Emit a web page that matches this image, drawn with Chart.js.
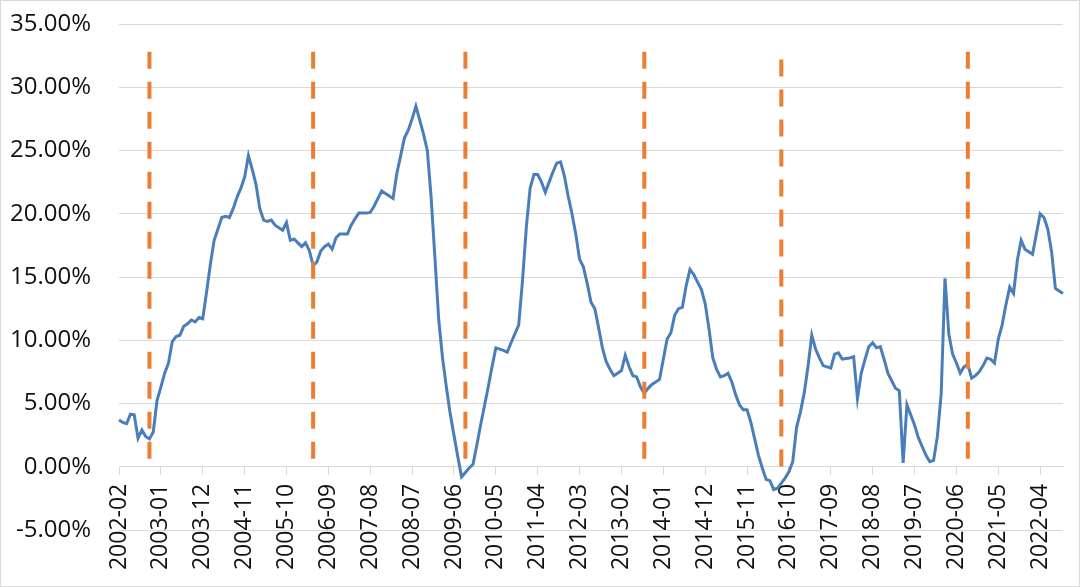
<!DOCTYPE html>
<html>
<head>
<meta charset="utf-8">
<script src="https://cdn.jsdelivr.net/npm/chart.js@4/dist/chart.umd.min.js"></script>
<style>
  html, body { margin: 0; padding: 0; background: #fff; }
  #wrap { width: 1080px; height: 587px; box-sizing: border-box; border: 1px solid #d9d9d9; background: #fff; }
  canvas { display: block; }
</style>
</head>
<body>
<div id="wrap"><canvas id="c" width="1078" height="585"></canvas></div>
<script>
// ---- categories: monthly, 2002-02 .. 2022-10 ----
const startYear = 2002, startMonth = 2, monthCount = 249;
const months = [];
for (let k = 0; k < monthCount; k++) {
  const m = startMonth - 1 + k;
  const y = startYear + Math.floor(m / 12);
  const mm = (m % 12) + 1;
  months.push(y + '-' + String(mm).padStart(2, '0'));
}
const labelEvery = 11; // shown tick labels: 2002-02, 2003-01, ...

// ---- series values (%) ----
const seriesValues = [
  3.7, 3.5, 3.4, 4.15, 4.1, 2.25, 2.9, 2.4, 2.2, 2.75,
  5.25, 6.3, 7.4, 8.2, 9.9, 10.3, 10.4, 11.1, 11.3, 11.6,
  11.45, 11.8, 11.7, 13.8, 16.0, 17.9, 18.8, 19.7, 19.8, 19.7,
  20.4, 21.3, 22.0, 22.9, 24.6, 23.5, 22.3, 20.4, 19.5, 19.4,
  19.5, 19.1, 18.9, 18.7, 19.3, 17.9, 18.0, 17.7, 17.4, 17.7,
  17.1, 15.9, 16.2, 17.05, 17.4, 17.6, 17.2, 18.1, 18.4, 18.4,
  18.4, 19.1, 19.6, 20.05, 20.05, 20.05, 20.1, 20.6, 21.2, 21.8,
  21.6, 21.4, 21.2, 23.2, 24.6, 26.0, 26.6, 27.5, 28.5, 27.4,
  26.3, 25.0, 21.3, 16.5, 11.6, 8.6, 6.3, 4.2, 2.5, 0.8,
  -0.8, -0.45, -0.1, 0.2, 1.7, 3.3, 4.8, 6.3, 7.9, 9.4,
  9.3, 9.2, 9.05, 9.8, 10.5, 11.2, 14.7, 18.9, 22.0, 23.1,
  23.1, 22.5, 21.7, 22.5, 23.3, 24.0, 24.1, 23.0, 21.4, 20.0,
  18.4, 16.4, 15.8, 14.5, 13.0, 12.5, 11.0, 9.4, 8.3, 7.7,
  7.2, 7.4, 7.6, 8.8, 7.9, 7.2, 7.1, 6.3, 5.8, 6.2,
  6.5, 6.7, 6.9, 8.5, 10.1, 10.6, 12.0, 12.5, 12.6, 14.3,
  15.6, 15.2, 14.6, 14.0, 12.9, 10.9, 8.6, 7.7, 7.1, 7.2,
  7.4, 6.7, 5.7, 4.9, 4.5, 4.5, 3.5, 2.2, 0.9, -0.1,
  -1.0, -1.1, -1.8, -1.7, -1.3, -0.9, -0.4, 0.4, 3.1, 4.3,
  5.8, 7.9, 10.4, 9.3, 8.6, 8.0, 7.9, 7.8, 8.9, 9.0,
  8.5, 8.55, 8.6, 8.7, 5.4, 7.4, 8.5, 9.5, 9.8, 9.4,
  9.5, 8.5, 7.4, 6.8, 6.2, 6.0, 0.3, 4.9, 4.1, 3.3,
  2.3, 1.6, 0.9, 0.4, 0.5, 2.4, 5.8, 14.9, 10.5, 8.9,
  8.2, 7.4, 7.9, 8.1, 7.0, 7.2, 7.5, 8.0, 8.6, 8.5,
  8.2, 10.1, 11.2, 12.8, 14.2, 13.7, 16.3, 17.9, 17.2, 17.0,
  16.8, 18.4, 20.0, 19.7, 18.8, 17.0, 14.1, 13.9, 13.7
];

// ---- event markers (dashed verticals): month, top %, bottom % ----
const markerMonths = ['2002-10', '2006-05', '2009-09', '2013-08', '2016-08', '2020-09'];
const markerTops    = [32.8, 32.8, 32.8, 32.8, 32.2, 32.8];
const markerBottoms = [0.45, 0.45, 0.45, 0.45, -0.2, 0.45];

// ---- y ticks ----
const yMin = -5, yMax = 35, yStep = 5;

const markerDatasets = markerMonths.map((m, k) => ({
  label: 'marker' + k,
  data: [{ x: m, y: markerTops[k] }, { x: m, y: markerBottoms[k] }],
  borderColor: '#ED7D31',
  borderWidth: 4,
  borderDash: [17, 13],
  pointRadius: 0,
  fill: false,
  order: 0
}));

const fontFamily = '"Open Sans", "Liberation Sans", sans-serif';

new Chart(document.getElementById('c'), {
  type: 'line',
  data: {
    labels: months,
    datasets: [
      ...markerDatasets,
      {
        label: 'series',
        data: seriesValues,
        borderColor: '#4A7EBB',
        borderWidth: 3,
        pointRadius: 0,
        tension: 0,
        fill: false,
        order: 1
      }
    ]
  },
  options: {
    responsive: false,
    animation: false,
    layout: { padding: { top: 23, right: 16, left: 0, bottom: 56 } },
    plugins: { legend: { display: false }, tooltip: { enabled: false } },
    scales: {
      x: {
        type: 'category',
        position: { y: 0 },
        offset: false,
        grid: {
          drawOnChartArea: false,
          drawTicks: true,
          tickLength: 8,
          color: (ctx) => (ctx.index % labelEvery === 0 ? '#D9D9D9' : 'rgba(0,0,0,0)'),
          lineWidth: 1
        },
        border: { display: true, color: '#D9D9D9', width: 1 },
        ticks: {
          autoSkip: false,
          minRotation: 90,
          maxRotation: 90,
          padding: 9,
          color: '#111',
          font: { family: fontFamily, size: 23 },
          callback: function (val, idx) { return idx % labelEvery === 0 ? months[idx] : ''; }
        },
        afterFit: (s) => { s.paddingLeft = 0; s.paddingRight = 0; }
      },
      y: {
        min: yMin,
        max: yMax,
        grid: { color: '#D9D9D9', lineWidth: 1, drawTicks: false },
        border: { display: false },
        ticks: {
          stepSize: yStep,
          padding: 28,
          color: '#111',
          font: { family: fontFamily, size: 24 },
          callback: (v) => v.toFixed(2) + '%'
        },
        afterFit: (s) => { s.width = 118; s.paddingTop = 0; s.paddingBottom = 0; }
      }
    }
  }
});
</script>
</body>
</html>
